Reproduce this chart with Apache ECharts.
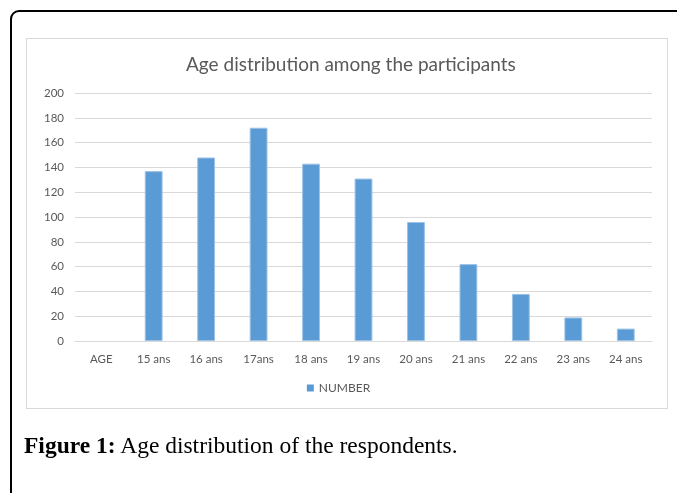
<!DOCTYPE html>
<html><head><meta charset="utf-8">
<script src="https://cdn.jsdelivr.net/npm/echarts@6/dist/echarts.min.js"></script>
<style>
html,body{margin:0;padding:0;background:#fff;width:677px;height:493px;overflow:hidden;}
#frame{position:absolute;left:10px;top:10px;width:720px;height:540px;border:2px solid #000;border-top-left-radius:9px;box-sizing:border-box;}
#box{position:absolute;left:26px;top:38px;width:642px;height:371px;border:1px solid #d9d9d9;box-sizing:border-box;}
#chart{position:absolute;left:0;top:0;width:677px;height:493px;}
#cap{position:absolute;left:24px;top:432px;font-family:"Liberation Serif","DejaVu Serif",serif;font-size:23.5px;color:#000;white-space:nowrap;}
</style></head>
<body>
<div id="frame"></div>
<div id="box"></div>
<div id="chart"></div>
<div id="cap"><b>Figure 1:</b> Age distribution of the respondents.</div>
<script>
const categories = ["AGE","15 ans","16 ans","17ans","18 ans","19 ans","20 ans","21 ans","22 ans","23 ans","24 ans"];
const numbers = [null,137,148,172,143,131,96,62,38,19,10];
const yTicks = {min:0,max:200,interval:20};
const chart = echarts.init(document.getElementById('chart'));
const font = 'Lato, "Open Sans", sans-serif';
chart.setOption({
  animation:false,
  title:{text:'Age distribution among the participants',left:181,top:50,
    textStyle:{fontFamily:font,fontSize:19,fontWeight:'normal',color:'#595959'}},
  legend:{data:['NUMBER'],bottom:94,left:'center',icon:'rect',itemWidth:7,itemHeight:7,itemGap:3,
    itemStyle:{borderWidth:0},
    textStyle:{fontFamily:font,fontSize:12,color:'#595959'}},
  grid:{left:75,right:25,top:93,bottom:152,containLabel:false},
  xAxis:{type:'category',data:categories,
    axisLine:{lineStyle:{color:'#d9d9d9'}},axisTick:{show:false},
    axisLabel:{fontFamily:font,fontSize:11.5,color:'#595959',margin:12}},
  yAxis:{type:'value',min:yTicks.min,max:yTicks.max,interval:yTicks.interval,
    axisLine:{show:false},axisTick:{show:false},
    splitLine:{lineStyle:{color:'#d9d9d9'}},
    axisLabel:{fontFamily:font,fontSize:11.5,color:'#595959',margin:11}},
  series:[{name:'NUMBER',type:'bar',data:numbers,barWidth:'34%',
    itemStyle:{color:'#5b9bd5',borderColor:'#9dc3e6',borderWidth:1}}]
});
</script>
</body></html>
